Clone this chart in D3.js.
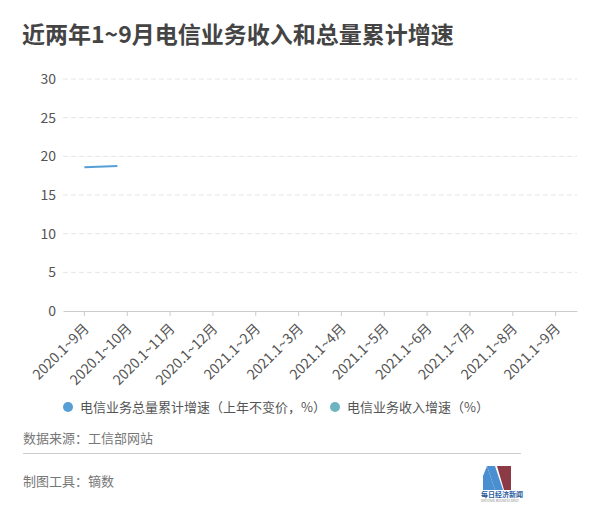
<!DOCTYPE html>
<html><head><meta charset="utf-8">
<script src="https://cdn.jsdelivr.net/npm/d3@7"></script>
<style>
body{margin:0;background:#fff;}
svg text{font-family:"Noto Sans CJK SC","Noto Sans",sans-serif;}
</style></head>
<body><svg id="c" width="600" height="510"></svg>
<script>
const title = "近两年1~9月电信业务收入和总量累计增速";
const categories = ["2020.1~9月","2020.1~10月","2020.1~11月","2020.1~12月","2021.1~2月","2021.1~3月","2021.1~4月","2021.1~5月","2021.1~6月","2021.1~7月","2021.1~8月","2021.1~9月"];
const seriesNames = ["电信业务总量累计增速（上年不变价，%）","电信业务收入增速（%）"];
const seriesColors = ["#559fd6","#6db3c0"];
const totalGrowth = [18.6, 18.8];
const yTicks = [0,5,10,15,20,25,30];
const source = "数据来源：工信部网站";
const tool = "制图工具：镝数";
const drawnFraction = 0.77;

const svg = d3.select("#c");
const x = d3.scaleBand().domain(categories).range([63,577]);
const y = d3.scaleLinear().domain([0,30]).range([311,79]);

svg.append("text").attr("x",22).attr("y",43).attr("font-size",23).attr("font-weight","bold")
  .attr("fill","#444").text(title);

// grid
svg.append("g").selectAll("line").data(yTicks.filter(d=>d>0)).join("line")
  .attr("x1",63).attr("x2",577).attr("y1",d=>y(d)).attr("y2",d=>y(d))
  .attr("stroke","#e4e4e4").attr("stroke-dasharray","5,3");

// y axis labels
const ya = svg.append("g").attr("transform","translate(63,0)")
  .call(d3.axisLeft(y).tickValues(yTicks).tickSize(0).tickPadding(7));
ya.select(".domain").remove();
ya.selectAll("text").attr("font-size",14).attr("fill","#555").attr("font-family","\"Noto Sans\",sans-serif");

// x axis
const xa = svg.append("g").attr("transform","translate(0,311)")
  .call(d3.axisBottom(x).tickSize(5).tickSizeOuter(0));
xa.select(".domain").attr("stroke","#ccc");
xa.selectAll(".tick line").attr("stroke","#ccc");
xa.selectAll("text").attr("font-size",14).attr("fill","#555")
  .attr("text-anchor","end").attr("dy","0.35em")
  .attr("transform","translate(2,15) rotate(-45)")
  .attr("x",0).attr("y",0);

// line
const cx = d => x(d) + x.bandwidth()/2;
const clipX = cx(categories[0]) + drawnFraction * x.step();
svg.append("clipPath").attr("id","clip").append("rect")
  .attr("x",0).attr("y",0).attr("width",clipX).attr("height",510);
const line = d3.line().x((d,i)=>cx(categories[i])).y(d=>y(d));
svg.append("path").datum(totalGrowth).attr("d",line).attr("fill","none")
  .attr("stroke",seriesColors[0]).attr("stroke-width",2).attr("clip-path","url(#clip)");

// legend
const lg = svg.append("g");
const legX = [68, 335];
seriesNames.forEach((n,i)=>{
  lg.append("circle").attr("cx",legX[i]).attr("cy",407).attr("r",5).attr("fill",seriesColors[i]);
  lg.append("text").attr("x",legX[i]+12).attr("y",412).attr("font-size",13).attr("fill","#555").text(n);
});

svg.append("text").attr("x",23).attr("y",443).attr("font-size",13).attr("fill","#777").text(source);
svg.append("line").attr("x1",23).attr("x2",521).attr("y1",453.5).attr("y2",453.5).attr("stroke","#ccc");
svg.append("text").attr("x",23).attr("y",486).attr("font-size",13).attr("fill","#777").text(tool);

// logo
const logo = svg.append("g").attr("transform","translate(481,466)");
logo.append("polygon").attr("points","6,0 14,0 22,24 14,24").attr("fill","#4a8fd0");
logo.append("polygon").attr("points","2,10 6,0 14,24 2,24").attr("fill","#4a8fd0");
logo.append("polygon").attr("points","16,0 30,0 30,24 23,24").attr("fill","#8b3a46");
logo.append("text").attr("x",0).attr("y",31).attr("font-size",7).attr("font-weight","bold").attr("fill","#2a5d9f").text("每日经济新闻");
logo.append("text").attr("x",0).attr("y",36).attr("font-size",3).attr("fill","#888").text("NATIONAL BUSINESS DAILY");
</script></body></html>
